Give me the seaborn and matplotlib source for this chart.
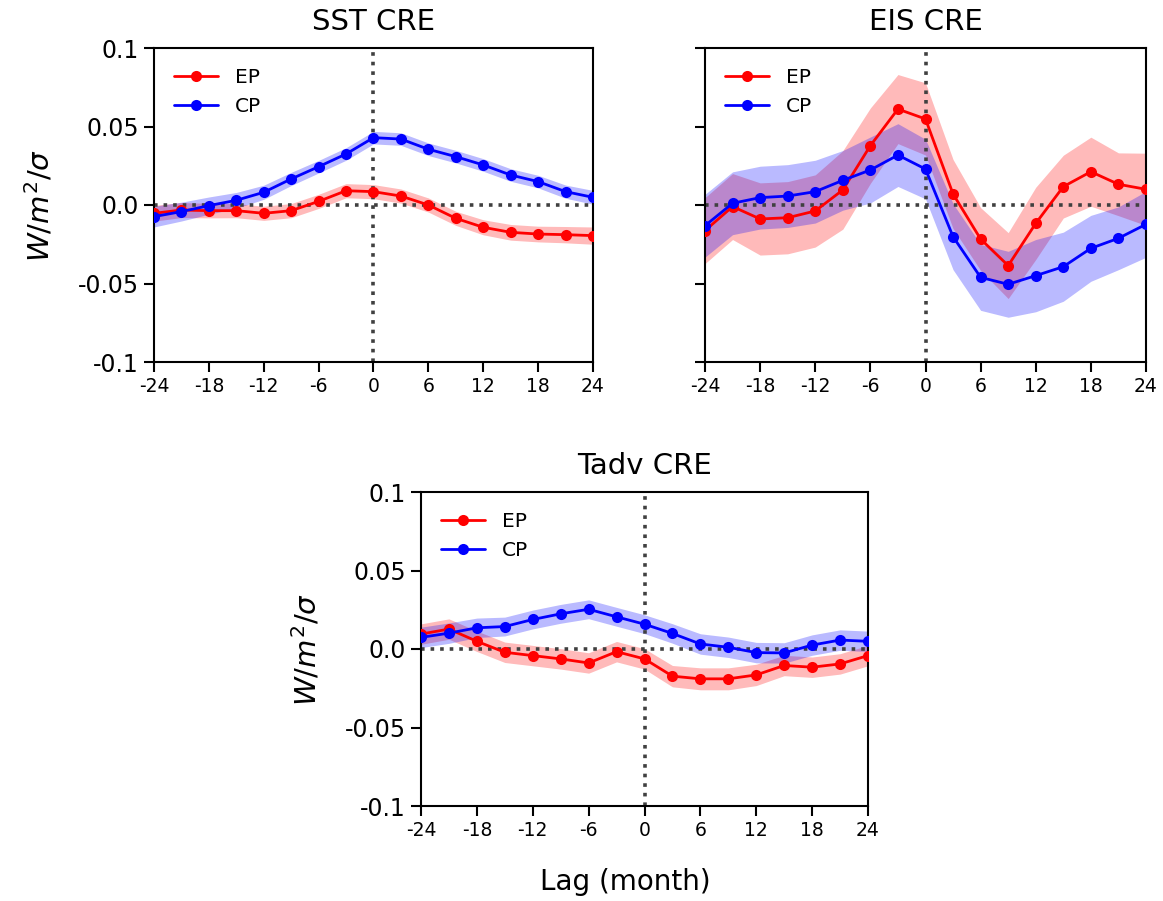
import numpy as np
import pandas as pd
import matplotlib
matplotlib.use("Agg")
import matplotlib.pyplot as plt
import seaborn as sns

# Lag axis (months), sampled every 3 months
lags = list(range(-24, 25, 3))

# SST-driven cloud radiative effect
sst_ep = [-0.0053, -0.0032, -0.0036, -0.0036, -0.0053, -0.0036, 0.0023, 0.0091, 0.0085,
          0.0057, 0.0000, -0.0085, -0.0142, -0.0174, -0.0185, -0.0189, -0.0195]
sst_cp = [-0.0074, -0.0042, -0.0004, 0.0030, 0.0081, 0.0166, 0.0244, 0.0325, 0.0429,
          0.0420, 0.0355, 0.0308, 0.0255, 0.0191, 0.0149, 0.0085, 0.0049]
sst_ep_spread = [0.0050, 0.0048, 0.0046, 0.0045, 0.0045, 0.0045, 0.0045, 0.0045, 0.0045,
                 0.0045, 0.0045, 0.0045, 0.0048, 0.0050, 0.0050, 0.0052, 0.0055]
sst_cp_spread = [0.0066, 0.0060, 0.0055, 0.0050, 0.0045, 0.0042, 0.0040, 0.0040, 0.0040,
                 0.0040, 0.0040, 0.0040, 0.0040, 0.0040, 0.0040, 0.0042, 0.0044]

# EIS-driven cloud radiative effect
eis_ep = [-0.0163, -0.0010, -0.0089, -0.0081, -0.0038, 0.0096, 0.0378, 0.0611, 0.0548,
          0.0070, -0.0217, -0.0386, -0.0117, 0.0117, 0.0212, 0.0132, 0.0100]
eis_cp = [-0.0132, 0.0011, 0.0047, 0.0057, 0.0085, 0.0157, 0.0223, 0.0318, 0.0229,
          -0.0202, -0.0461, -0.0505, -0.0450, -0.0393, -0.0276, -0.0212, -0.0123]
eis_ep_spread = [0.021, 0.021, 0.023, 0.023, 0.023, 0.025, 0.024, 0.022, 0.023,
                 0.022, 0.020, 0.021, 0.023, 0.020, 0.022, 0.020, 0.023]
eis_cp_spread = [0.020, 0.020, 0.020, 0.020, 0.020, 0.019, 0.021, 0.020, 0.019,
                 0.021, 0.021, 0.021, 0.023, 0.022, 0.021, 0.020, 0.021]

# Temperature-advection-driven cloud radiative effect
tadv_ep = [0.0095, 0.0127, 0.0049, -0.0021, -0.0042, -0.0063, -0.0089, -0.0017, -0.0063,
           -0.0173, -0.0190, -0.0190, -0.0165, -0.0105, -0.0116, -0.0095, -0.0042]
tadv_cp = [0.0074, 0.0101, 0.0135, 0.0143, 0.0188, 0.0224, 0.0253, 0.0205, 0.0158,
           0.0099, 0.0032, 0.0011, -0.0023, -0.0025, 0.0025, 0.0057, 0.0049]
tadv_ep_spread = [0.0065, 0.0065, 0.0065, 0.0065, 0.0065, 0.0065, 0.0065, 0.0065, 0.0065,
                  0.0068, 0.0070, 0.0070, 0.0068, 0.0065, 0.0065, 0.0065, 0.0065]
tadv_cp_spread = [0.0065, 0.0065, 0.0062, 0.0060, 0.0060, 0.0060, 0.0060, 0.0060, 0.0060,
                  0.0062, 0.0065, 0.0065, 0.0065, 0.0065, 0.0065, 0.0065, 0.0065]

panels = [
    ("SST CRE", sst_ep, sst_cp, sst_ep_spread, sst_cp_spread),
    ("EIS CRE", eis_ep, eis_cp, eis_ep_spread, eis_cp_spread),
    ("Tadv CRE", tadv_ep, tadv_cp, tadv_ep_spread, tadv_cp_spread),
]

yticks = [-0.1, -0.05, 0.0, 0.05, 0.1]
ytick_labels = ["-0.1", "-0.05", "0.0", "0.05", "0.1"]
xticks = list(range(-24, 25, 6))
colors = {"EP": "#ff0000", "CP": "#0000ff"}

sns.set_style("ticks")
plt.rcParams["font.family"] = ["DejaVu Sans"]
plt.rcParams["mathtext.fontset"] = "dejavusans"
for key in ("text.color", "axes.labelcolor", "xtick.color", "ytick.color",
            "xtick.labelcolor", "ytick.labelcolor"):
    plt.rcParams[key] = "black"

W, H = 1163, 901
fig = plt.figure(figsize=(W / 100, H / 100), dpi=100)


def px_axes(x0, x1, y0, y1):
    return fig.add_axes([x0 / W, 1 - y1 / H, (x1 - x0) / W, (y1 - y0) / H])


axes = [
    px_axes(154, 593, 48, 362),
    px_axes(705, 1146, 48, 362),
    px_axes(421, 868, 492, 806),
]

for i, (ax, (title, ep, cp, ep_sd, cp_sd)) in enumerate(zip(axes, panels)):
    df = pd.DataFrame({
        "lag": lags * 2,
        "value": ep + cp,
        "type": ["EP"] * len(lags) + ["CP"] * len(lags),
    })
    for name, vals, sd in (("EP", ep, ep_sd), ("CP", cp, cp_sd)):
        v = np.array(vals)
        s = np.array(sd)
        ax.fill_between(lags, v - s, v + s, color=colors[name], alpha=0.27,
                        linewidth=0, zorder=1)
    ax.axhline(0, color="0.25", linestyle=":", linewidth=2.6, zorder=1.5)
    ax.axvline(0, color="0.25", linestyle=":", linewidth=2.6, zorder=1.5)
    sns.lineplot(data=df, x="lag", y="value", hue="type", palette=colors,
                 hue_order=["EP", "CP"], marker="o", markersize=8,
                 markeredgewidth=0, linewidth=2, errorbar=None, ax=ax, zorder=3)
    ax.set_xlim(-24, 24)
    ax.set_ylim(-0.1, 0.1)
    ax.set_xticks(xticks)
    ax.set_xticklabels([str(t) for t in xticks])
    ax.set_yticks(yticks)
    ax.set_xlabel("")
    ax.set_ylabel("")
    if i == 1:
        ax.set_yticklabels([])
    else:
        ax.set_yticklabels(ytick_labels)
        ax.set_ylabel(r"$W/m^2/\sigma$", fontsize=21, labelpad=16)
    ax.tick_params(axis="y", labelsize=17, length=7, width=1.5, direction="out", pad=4)
    ax.tick_params(axis="x", labelsize=13.5, length=7, width=1.5, direction="out", pad=4)
    for sp in ax.spines.values():
        sp.set_linewidth(1.5)
        sp.set_color("black")
        sp.set_visible(True)
    ax.set_title(title, fontsize=21, pad=13)
    leg = ax.legend(loc="upper left", frameon=False, fontsize=14.5, handlelength=2.2,
                    borderaxespad=0.6, labelspacing=0.5)

fig.text(625 / W, 1 - 882 / H, "Lag (month)", fontsize=20, ha="center", va="center")

fig.savefig("out.png", dpi=100)
